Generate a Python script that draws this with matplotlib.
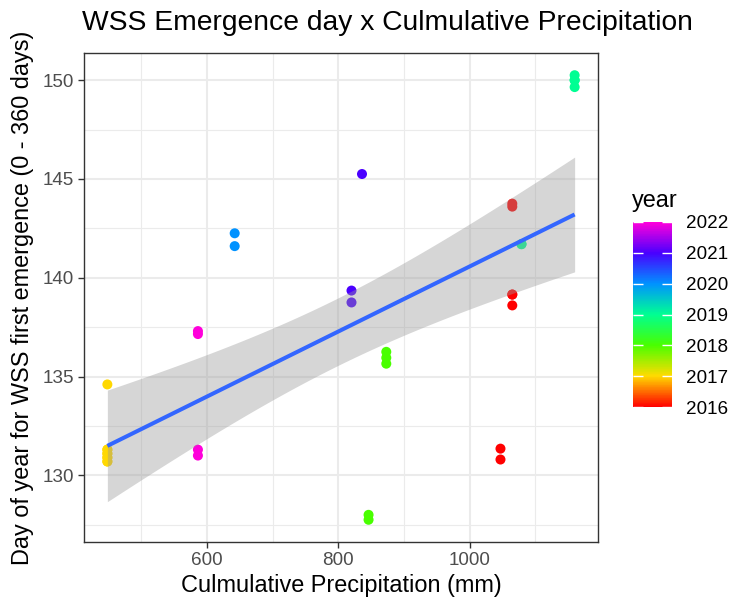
import math
import numpy as np
import matplotlib
matplotlib.use("Agg")
import matplotlib.pyplot as plt
from matplotlib.colors import LinearSegmentedColormap, Normalize
from matplotlib.cm import ScalarMappable

plt.rcParams['font.family'] = ['Liberation Sans', 'DejaVu Sans']

# ---------------- data (overlapping replicate points included) ----------------
year = [2017, 2017, 2017, 2017, 2017, 2017, 2017, 2017, 2017,
        2022, 2022, 2022, 2022,
        2020, 2020,
        2021, 2021, 2021,
        2018, 2018, 2018, 2018, 2018,
        2016, 2016, 2016, 2016, 2016, 2016, 2016,
        2019, 2019, 2019, 2019, 2019, 2019]
precip = [448, 448, 448, 448, 448, 448, 448, 448, 448,
          586, 586, 586, 586,
          642, 642,
          836, 820, 820,
          873, 873, 873, 846, 846,
          1065, 1065, 1065, 1065, 1065, 1047, 1047,
          1079, 1079, 1160, 1160, 1160, 1160]
emergence = [134.6, 131.3, 131.3, 131.1, 131.1, 130.9, 130.9, 130.7, 130.7,
             137.3, 137.15, 131.3, 131.0,
             142.25, 141.6,
             145.25, 139.35, 138.75,
             136.25, 135.95, 135.65, 128.0, 127.75,
             143.75, 143.6, 139.15, 139.15, 138.6, 131.35, 130.8,
             141.7, 141.7, 150.25, 150.0, 150.0, 149.65]
rainbow7 = ['#FF0000', '#FFDB00', '#49FF00', '#00FF92', '#0092FF', '#4900FF', '#FF00DB']
x_ticks = [600, 800, 1000]
y_ticks = [130, 135, 140, 145, 150]
cbar_ticks = [2016, 2017, 2018, 2019, 2020, 2021, 2022]

title = "WSS Emergence day x Culmulative Precipitation"
xlabel = "Culmulative Precipitation (mm)"
ylabel = "Day of year for WSS first emergence (0 - 360 days)"

# ---------------- helpers ----------------
def t_ppf(p, df):
    c = math.exp(math.lgamma((df + 1) / 2) - math.lgamma(df / 2)) / math.sqrt(df * math.pi)
    def cdf(v):
        t = np.linspace(0, v, 4001)
        f = c * (1 + t ** 2 / df) ** (-(df + 1) / 2)
        return 0.5 + np.trapezoid(f, t)
    lo, hi = 0.0, 20.0
    for _ in range(60):
        mid = (lo + hi) / 2
        if cdf(mid) < p:
            lo = mid
        else:
            hi = mid
    return (lo + hi) / 2

x = np.array(precip, float)
y = np.array(emergence, float)
n = len(x)
X = np.column_stack([np.ones(n), x])
beta = np.linalg.lstsq(X, y, rcond=None)[0]
resid = y - X @ beta
s2 = resid @ resid / (n - 2)
XtXi = np.linalg.inv(X.T @ X)
xs = np.linspace(x.min(), x.max(), 80)
Xs = np.column_stack([np.ones_like(xs), xs])
fit = Xs @ beta
se = np.sqrt(np.einsum('ij,jk,ik->i', Xs, XtXi, Xs) * s2)
tq = t_ppf(0.975, n - 2)

# ---------------- figure ----------------
W, H = 737, 602
fig = plt.figure(figsize=(W / 100, H / 100), dpi=100)
ax = fig.add_axes([84 / W, 1 - 542 / H, (598 - 84) / W, (542 - 53) / H])

cmap = LinearSegmentedColormap.from_list('rb7', rainbow7)
norm = Normalize(2016, 2022)

ax.scatter(x, y, c=year, cmap=cmap, norm=norm, s=52, linewidths=0, zorder=2)
ax.fill_between(xs, fit - tq * se, fit + tq * se, color='#999999', alpha=0.4,
                linewidth=0, zorder=3)
ax.plot(xs, fit, color='#3366FF', lw=2.9, zorder=4, solid_capstyle='butt')

xr = x.max() - x.min()
yr = y.max() - y.min()
ax.set_xlim(x.min() - 0.05 * xr, x.max() + 0.05 * xr)
ax.set_ylim(y.min() - 0.05 * yr, y.max() + 0.05 * yr)

ax.set_xticks(x_ticks)
ax.set_yticks(y_ticks)
ax.set_xticks([500, 700, 900, 1100], minor=True)
ax.set_yticks([127.5, 132.5, 137.5, 142.5, 147.5], minor=True)
ax.grid(which='major', color='#EBEBEB', lw=1.5, zorder=0)
ax.grid(which='minor', color='#EBEBEB', lw=0.8, zorder=0)
ax.set_axisbelow(True)
ax.tick_params(which='minor', length=0)
ax.tick_params(which='major', length=4, width=1, color='#333333',
               labelcolor='#4D4D4D', labelsize=13.6, pad=3)
for sp in ax.spines.values():
    sp.set_color('#333333')
    sp.set_linewidth(1.0)

ax.set_xlabel(xlabel, fontsize=16.9, color='black', labelpad=4)
ax.set_ylabel(ylabel, fontsize=16.9, color='black', labelpad=6)
fig.text(82 / W, 1 - 23 / H, title, fontsize=20.3, ha='left', va='center')

# ---------------- colorbar ----------------
cax = fig.add_axes([633 / W, 1 - 407 / H, 39 / W, 185 / H])
cb = fig.colorbar(ScalarMappable(norm=norm, cmap=cmap), cax=cax, ticks=cbar_ticks)
cb.outline.set_visible(False)
cax.tick_params(direction='in', color='white', length=7, width=1,
                left=True, right=True, labelsize=13.6, labelcolor='black', pad=10)
fig.text(632 / W, 1 - 201 / H, 'year', fontsize=16.9, ha='left', va='center')

fig.savefig('out.png', dpi=100)
